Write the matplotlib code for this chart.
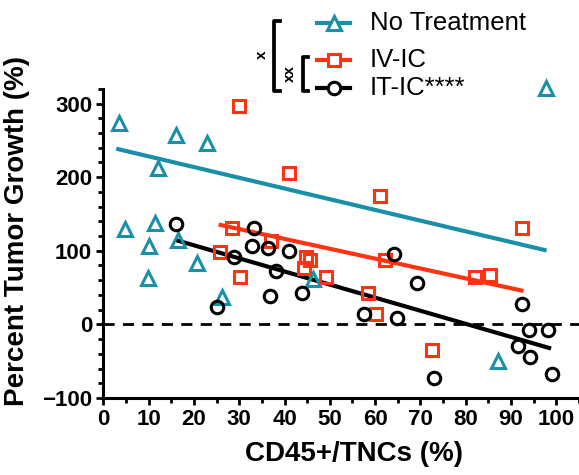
import numpy as np
import matplotlib
matplotlib.use('Agg')
import matplotlib.pyplot as plt
from matplotlib.lines import Line2D
from matplotlib.ticker import MultipleLocator

plt.rcParams['font.family'] = ['Liberation Sans', 'DejaVu Sans']

# No Treatment (teal triangles)
nt_x = [3.5, 16.0, 22.9, 12.1, 4.9, 11.4, 10.1, 16.5, 20.6, 9.8, 26.3, 46.2, 87.1, 97.8]
nt_y = [273, 257, 246, 212, 129, 138, 106, 115, 84, 63, 37, 61, -50, 321]
nt_fit_x = [3.3, 97.4]
nt_fit_y = [238, 101]

# IV-IC (red squares)
iv_x = [30.0, 41.0, 28.5, 37.1, 25.7, 30.2, 44.7, 45.7, 44.3, 49.1,
        61.0, 92.4, 62.1, 82.0, 85.3, 58.4, 60.1, 72.6]
iv_y = [297, 205, 131, 113, 98, 65, 92, 87, 77, 64,
        174, 131, 88, 64, 67, 42, 14, -35]
iv_fit_x = [25.9, 92.3]
iv_fit_y = [135, 46]

# IT-IC (black circles)
it_x = [16.0, 33.3, 32.9, 36.4, 41.0, 28.9, 38.2, 36.8, 43.9, 25.2,
        64.2, 69.3, 57.6, 64.9, 92.5, 94.0, 98.1, 91.5, 94.1, 99.1, 73.0]
it_y = [137, 131, 107, 104, 99, 91, 72, 38, 42, 24,
        95, 56, 14, 8, 28, -8, -8, -30, -44, -68, -73]
it_fit_x = [16.3, 98.4]
it_fit_y = [114, -32]

TEAL = '#1A90A8'
RED = '#FF3311'
BLACK = '#000000'

W, H = 579, 475
fig = plt.figure(figsize=(W / 100, H / 100), dpi=100)
ax = fig.add_axes([0.1784, 0.1621, 0.8216, 0.651])

ms = 9
mew = 2.2
ax.plot(nt_fit_x, nt_fit_y, color=TEAL, lw=3, zorder=2)
ax.plot(iv_fit_x, iv_fit_y, color=RED, lw=3, zorder=2)
ax.plot(it_fit_x, it_fit_y, color=BLACK, lw=3, zorder=2)
ax.plot(nt_x, nt_y, '^', ms=ms + 1, mfc='none', mec=TEAL, mew=mew, clip_on=False, zorder=3)
ax.plot(iv_x, iv_y, 's', ms=ms, mfc='none', mec=RED, mew=mew, clip_on=False, zorder=3)
ax.plot(it_x, it_y, 'o', ms=ms, mfc='none', mec=BLACK, mew=mew, clip_on=False, zorder=3)
ax.axhline(0, color='black', lw=2, ls=(0, (4, 3)), zorder=1)

ax.set_xlim(0, 105)
ax.set_ylim(-100, 320)
ax.spines['top'].set_visible(False)
ax.spines['right'].set_visible(False)
for s in ('left', 'bottom'):
    ax.spines[s].set_linewidth(2.2)

ax.set_xticks(np.arange(0, 101, 10))
ax.xaxis.set_minor_locator(MultipleLocator(5))
ax.set_yticks([-100, 0, 100, 200, 300])
ax.yaxis.set_minor_locator(MultipleLocator(20))
ax.tick_params(which='major', length=5, width=2, labelsize=16, pad=3)
ax.tick_params(which='minor', length=3.5, width=2)
for lab in ax.get_xticklabels() + ax.get_yticklabels():
    lab.set_fontweight('bold')

ax.set_xlabel('CD45+/TNCs (%)', fontsize=20, fontweight='bold')
ax.set_ylabel('Percent Tumor Growth (%)', fontsize=20, fontweight='bold')
ax.xaxis.set_label_coords(0.527, -0.14)
ax.yaxis.set_label_coords(-0.155, 0.54)


def fx(px):
    return px / W


def fy(py):
    return 1 - py / H


# legend drawn by hand
rows = [('No Treatment', '^', TEAL, 22.7, ms + 1),
        ('IV-IC', 's', RED, 60, ms),
        ('IT-IC****', 'o', BLACK, 88.3, ms)]
for label, mk, col, py, size in rows:
    fig.add_artist(Line2D([fx(317), fx(350)], [fy(py), fy(py)], color=col, lw=3,
                          transform=fig.transFigure))
    fig.add_artist(Line2D([fx(333.5)], [fy(py)], marker=mk, ms=size, mfc='white',
                          mec=col, mew=mew, transform=fig.transFigure))
    fig.text(fx(370), fy(py), label, fontsize=18.5, va='center', ha='left')

# significance brackets
fig.add_artist(Line2D([fx(280), fx(274), fx(274), fx(280)],
                      [fy(21), fy(21), fy(90.5), fy(90.5)], color='black', lw=2.7,
                      transform=fig.transFigure))
fig.add_artist(Line2D([fx(308), fx(302.5), fx(302.5), fx(308)],
                      [fy(57), fy(57), fy(90.5), fy(90.5)], color='black', lw=2.7,
                      transform=fig.transFigure))
fig.text(fx(262), fy(55), 'x', fontsize=11, fontweight='bold', rotation=90,
         va='center', ha='center')
fig.text(fx(290), fy(73.5), 'xx', fontsize=11, fontweight='bold', rotation=90,
         va='center', ha='center')

fig.savefig('out.png', dpi=100)
